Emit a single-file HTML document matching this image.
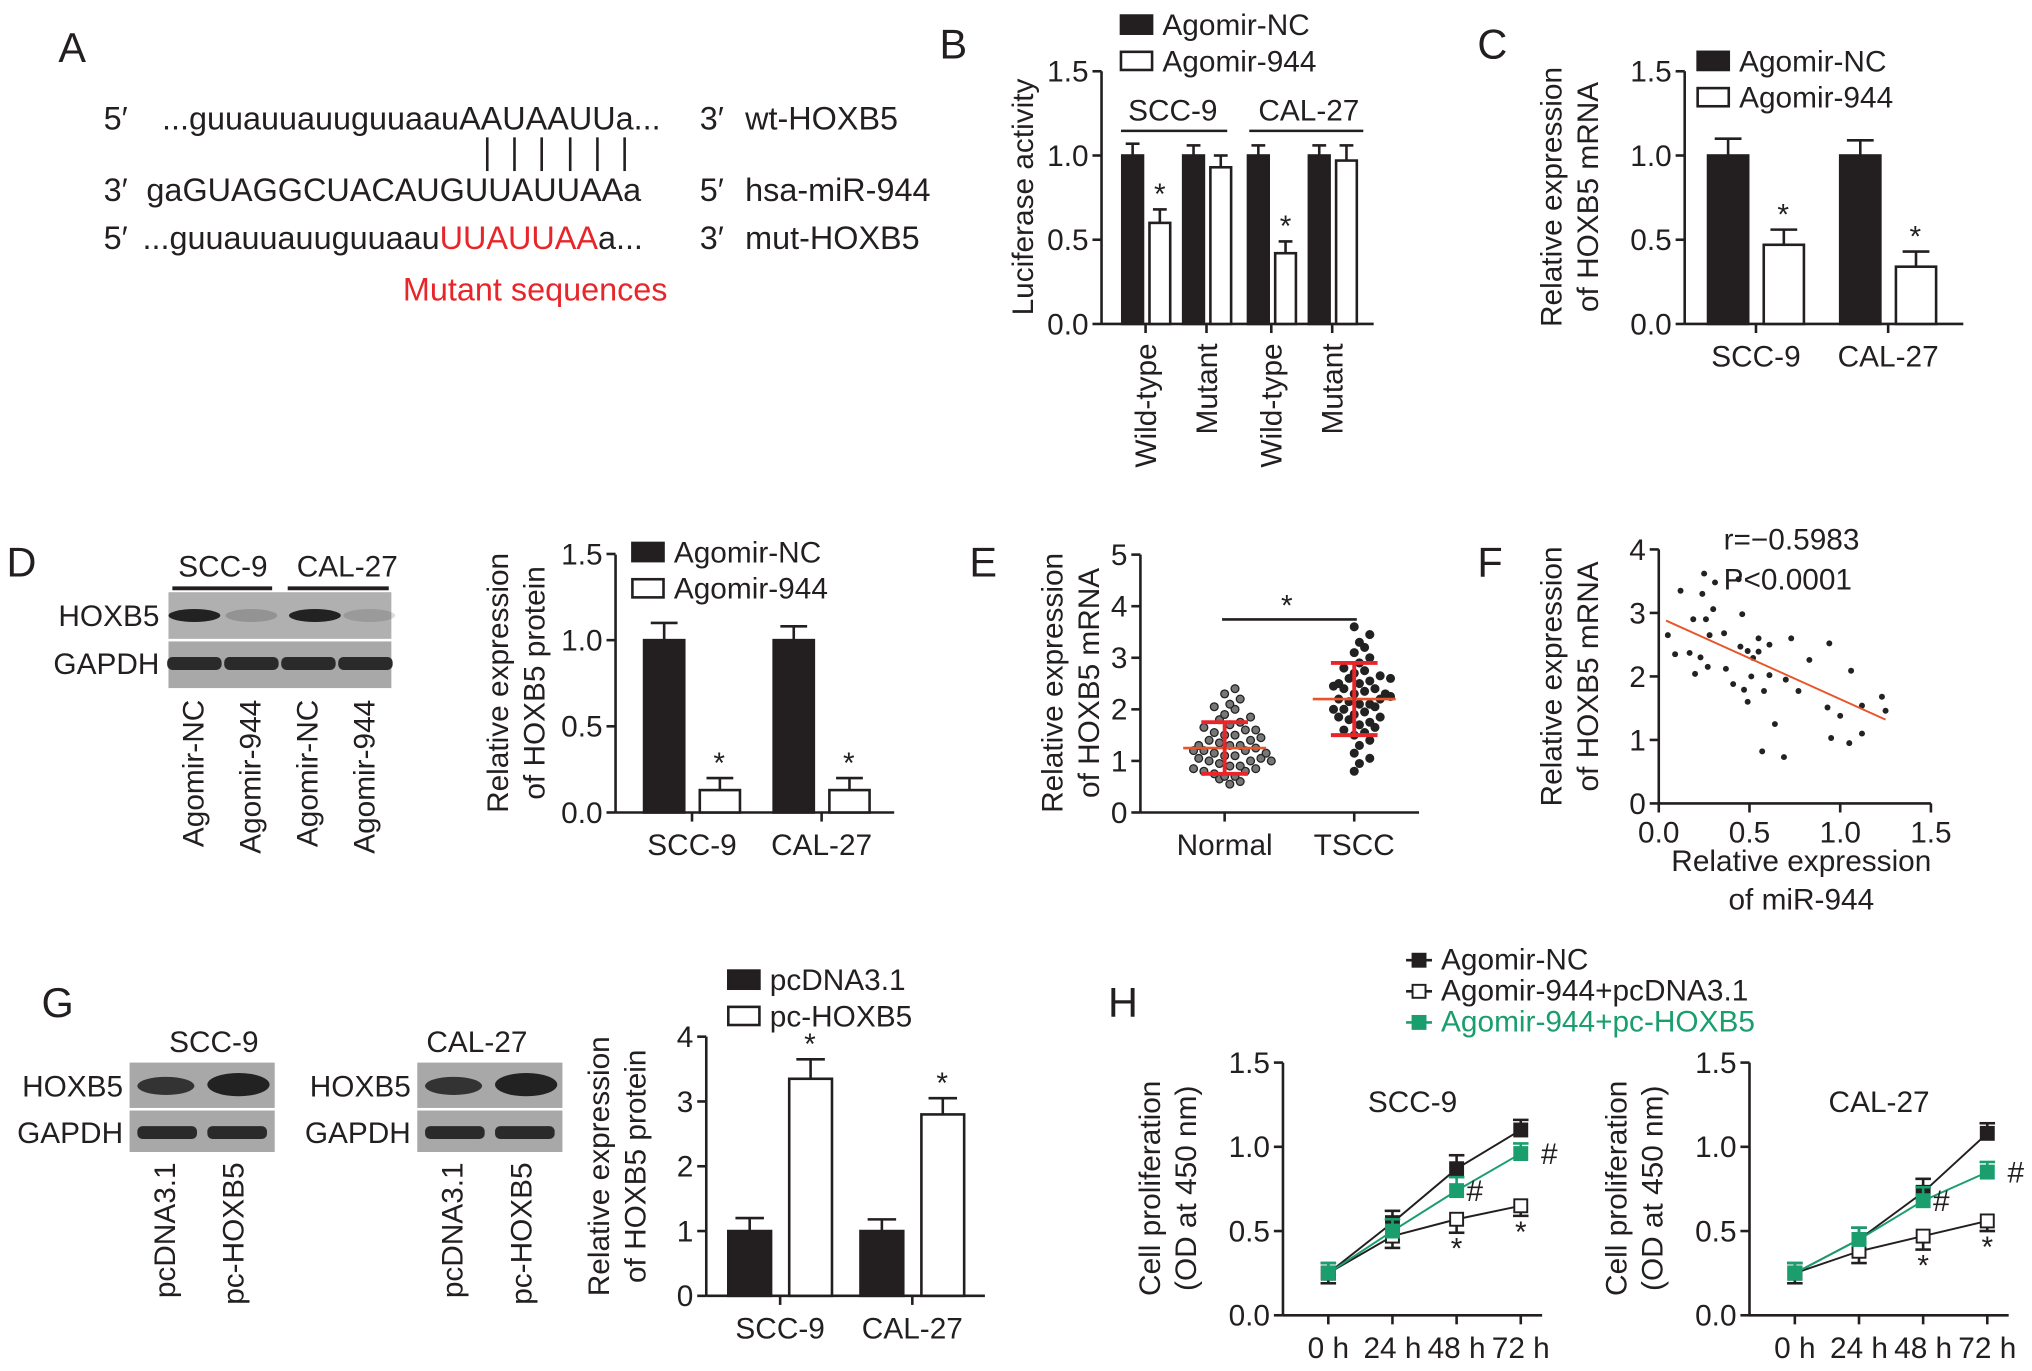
<!DOCTYPE html>
<html><head><meta charset="utf-8"><style>
html,body{margin:0;padding:0;background:#fff}
svg{display:block}
text{font-family:"Liberation Sans",sans-serif;fill:#231f20}
</style></head><body>
<svg id="fig" width="2032" height="1371" viewBox="0 0 1568 1058" preserveAspectRatio="none" xmlns="http://www.w3.org/2000/svg">
<g id="A" font-size="25">
<text x="45" y="48" font-size="32">A</text>
<text x="80" y="100">5′</text><text x="125" y="100">...guuauuauuguuaauAAUAAUUa...</text><text x="540" y="100">3′</text><text x="575" y="100">wt-HOXB5</text>
<text x="80" y="155">3′</text><text x="113" y="155">gaGUAGGCUACAUGUUAUUAAa</text><text x="540" y="155">5′</text><text x="575" y="155">hsa-miR-944</text>
<text x="80" y="192">5′</text><text x="110" y="192">...guuauuauuguuaau<tspan style="fill:#e8262a">UUAUUAA</tspan>a...</text><text x="540" y="192">3′</text><text x="575" y="192">mut-HOXB5</text>
<text x="413" y="232" text-anchor="middle" style="fill:#e8262a">Mutant sequences</text>
<g stroke="#231f20" stroke-width="2"><line x1="376" y1="106" x2="376" y2="132"/><line x1="397" y1="106" x2="397" y2="132"/><line x1="418" y1="106" x2="418" y2="132"/><line x1="440" y1="106" x2="440" y2="132"/><line x1="461" y1="106" x2="461" y2="132"/><line x1="482" y1="106" x2="482" y2="132"/></g>
</g>
<g id="dyn"></g>
</svg>
<script>
// ---------- data ----------
const bCats=["Wild-type","Mutant","Wild-type","Mutant"];
const bNC=[1.0,1.0,1.0,1.0];
const b944=[0.60,0.93,0.42,0.97];
const bErrNC=[0.07,0.06,0.06,0.06];
const bErr944=[0.08,0.07,0.07,0.09];
const cCats=["SCC-9","CAL-27"];
const cNC=[1.0,1.0];
const c944=[0.47,0.34];
const cErrNC=[0.1,0.09];const cErr944=[0.09,0.09];
const dNC=[1.0,1.0];const d944=[0.13,0.13];
const dErrNC=[0.1,0.08];const dErr944=[0.07,0.07];
const eNormal=[0.55,0.6,0.65,0.7,0.7,0.75,0.8,0.8,0.85,0.9,0.9,0.95,1.0,1.0,1.05,1.05,1.1,1.1,1.15,1.2,1.2,1.25,1.3,1.3,1.35,1.4,1.4,1.45,1.5,1.5,1.55,1.6,1.65,1.7,1.75,1.8,1.85,1.9,2.0,2.05,2.1,2.2,2.3,2.4,1.0,1.2,1.3,0.85,1.6,1.15];
const eTSCC=[0.8,0.95,1.05,1.15,1.3,1.4,1.5,1.55,1.6,1.7,1.75,1.8,1.85,1.9,1.95,2.0,2.05,2.1,2.1,2.15,2.2,2.2,2.25,2.3,2.35,2.4,2.4,2.45,2.5,2.55,2.6,2.65,2.7,2.75,2.8,2.9,3.0,3.1,3.2,3.3,3.45,3.6,2.0,2.3,1.65,2.5,1.85,2.6];
const eMean=[1.25,2.2];const eSD=[0.5,0.7];
const fX=[0.05,0.09,0.12,0.17,0.19,0.2,0.23,0.24,0.25,0.26,0.27,0.28,0.3,0.31,0.36,0.37,0.41,0.44,0.45,0.46,0.47,0.49,0.49,0.51,0.52,0.55,0.55,0.57,0.58,0.61,0.61,0.64,0.69,0.7,0.73,0.77,0.83,0.93,0.94,0.95,1.0,1.05,1.06,1.12,1.12,1.23,1.25];
const fY=[2.65,2.35,3.35,2.37,2.9,2.04,2.3,3.3,3.62,2.9,2.15,2.65,3.06,3.48,2.68,2.12,1.88,3.53,2.47,2.98,1.79,1.6,2.4,2.0,2.29,2.6,2.39,0.82,1.77,2.5,2.02,1.25,0.73,1.95,2.6,1.77,2.26,1.51,2.52,1.03,1.38,0.95,2.09,1.1,1.54,1.68,1.46];
const fFit=[[0.04,2.88],[1.25,1.32]];
const gPc=[1.0,1.0];const gHox=[3.35,2.8];
const gErrPc=[0.2,0.18];const gErrHox=[0.3,0.25];
const hTimes=["0 h","24 h","48 h","72 h"];
const hSccNC=[0.25,0.55,0.87,1.1];const hSccPc=[0.25,0.47,0.57,0.65];const hSccHox=[0.25,0.5,0.74,0.96];
const hCalNC=[0.25,0.45,0.73,1.08];const hCalPc=[0.25,0.38,0.47,0.56];const hCalHox=[0.25,0.45,0.68,0.85];
const hErr=[0.06,0.07,0.08,0.06];
// ---------- helpers ----------
const FS=23;
const NS="http://www.w3.org/2000/svg";const root=document.getElementById('dyn');
function el(t,a,p){const e=document.createElementNS(NS,t);for(const k in a)e.setAttribute(k,a[k]);(p||root).appendChild(e);return e;}
function txt(x,y,s,fs,anchor,p,rot,fill){const e=el('text',{x:x,y:y,'font-size':fs||FS,'text-anchor':anchor||'start'},p);if(rot)e.setAttribute('transform','rotate(-90 '+x+' '+y+')');if(fill)e.style.fill=fill;e.textContent=s;return e;}
function ln(x1,y1,x2,y2,p,w,c){return el('line',{x1:x1,y1:y1,x2:x2,y2:y2,stroke:c||'#231f20','stroke-width':w||2},p);}
function yAxis(x,y0,top,ticks,fn,p){ln(x,y0,x,top,p);ticks.forEach(t=>{const y=fn(t.v);ln(x-7,y,x,y,p);txt(x-10,y+8,t.s,FS,'end',p);});}
function errBar(cx,yTop,yErr,w,p,c){ln(cx,yTop,cx,yErr,p,2,c);ln(cx-w,yErr,cx+w,yErr,p,2,c);}
function bar(x,w,v,err,fn,black,p,name){const y0=fn(0),y=fn(v);errBar(x+w/2,y,fn(v+err),w/3,p);const r=el('rect',{x:x,y:y,width:w,height:y0-y,fill:black?'#231f20':'#fff',stroke:'#231f20','stroke-width':2},p);return r;}
function legend(x,y,labels,p){labels.forEach((l,i)=>{el('rect',{x:x,y:y+i*28-15,width:24,height:14,fill:i?'#fff':'#231f20',stroke:'#231f20','stroke-width':2},p);txt(x+32,y+i*28,l,FS,'start',p);});}
function g(name){const e=el('g',{});return e;}
const t15=[{v:0,s:'0.0'},{v:0.5,s:'0.5'},{v:1,s:'1.0'},{v:1.5,s:'1.5'}];
// ---------- B ----------
(function(){const p=g('panel-b-luciferase');const fy=v=>250-130*v;
txt(725,45,'B',32,'start',p);yAxis(850,250,55,t15,fy,p);ln(850,250,1060,250,p);
txt(797,152,'Luciferase activity',FS,'middle',p,true);
legend(865,27,['Agomir-NC','Agomir-944'],p);
bCats.forEach((c,i)=>{const x=866+i*47+(i>1?3:0);bar(x,16,bNC[i],bErrNC[i],fy,true,p,'bar-nc-'+i);bar(x+21,16,b944[i],bErr944[i],fy,false,p,'bar-944-'+i);
 ln(x+18,250,x+18,257,p);txt(x+26,265,c,FS,'end',p,true);
 if(i%2==0)txt(x+29,fy(b944[i]+bErr944[i])-4,'*',FS,'middle',p);});
txt(905,93,'SCC-9',FS,'middle',p);ln(865,101,947,101,p);txt(1010,93,'CAL-27',FS,'middle',p);ln(964,101,1052,101,p);})();
// ---------- C ----------
(function(){const p=g('panel-c-mrna');const fy=v=>250-130*v;
txt(1140,45,'C',32,'start',p);yAxis(1300,250,55,t15,fy,p);ln(1300,250,1515,250,p);
txt(1205,152,'Relative expression',FS,'middle',p,true);txt(1233,152,'of HOXB5 mRNA',FS,'middle',p,true);
legend(1310,55,['Agomir-NC','Agomir-944'],p);
cCats.forEach((c,i)=>{const x=1318+i*102;bar(x,31,cNC[i],cErrNC[i],fy,true,p,'bar-nc-'+c);bar(x+43,31,c944[i],cErr944[i],fy,false,p,'bar-944-'+c);
 txt(x+58,fy(c944[i]+cErr944[i])-4,'*',FS,'middle',p);ln(x+37,250,x+37,257,p);txt(x+37,283,c,FS,'middle',p);});})();
// ---------- D ----------
(function(){const p=g('panel-d-western');const fy=v=>627-133*v;
txt(5,445,'D',32,'start',p);
txt(172,445,'SCC-9',FS,'middle',p);ln(133,454,210,454,p,3);txt(268,445,'CAL-27',FS,'middle',p);ln(222,454,300,454,p,3);
el('rect',{x:130,y:457,width:172,height:36,fill:'#b0b0b0'},p);el('rect',{x:130,y:495,width:172,height:36,fill:'#a8a8a8'},p);
[[150,1],[194,0.2],[243,1],[285,0.15]].forEach(b=>el('ellipse',{cx:b[0],cy:475,rx:20,ry:5,fill:'#222','fill-opacity':b[1]},p));
[150,194,238,282].forEach(x=>el('rect',{x:x-21,y:507,width:42,height:10,rx:4,fill:'#2a2a2a'},p));
txt(123,483,'HOXB5',FS,'end',p);txt(123,520,'GAPDH',FS,'end',p);
['Agomir-NC','Agomir-944','Agomir-NC','Agomir-944'].forEach((s,i)=>txt(157+i*44,540,s,FS,'end',p,true));
yAxis(475,627,428,t15,fy,p);ln(475,627,690,627,p);
txt(392,527,'Relative expression',FS,'middle',p,true);txt(420,527,'of HOXB5 protein',FS,'middle',p,true);
legend(488,434,['Agomir-NC','Agomir-944'],p);
cCats.forEach((c,i)=>{const x=497+i*100;bar(x,31,dNC[i],dErrNC[i],fy,true,p,'bar-nc-'+c);bar(x+43,31,d944[i],dErr944[i],fy,false,p,'bar-944-'+c);
 txt(x+58,fy(d944[i]+dErr944[i])-4,'*',FS,'middle',p);ln(x+37,627,x+37,634,p);txt(x+37,660,c,FS,'middle',p);});})();
// ---------- E ----------
(function(){const p=g('panel-e-scatter');const fy=v=>627-39.8*v;
txt(748,445,'E',32,'start',p);yAxis(880,627,428,[0,1,2,3,4,5].map(v=>({v:v,s:''+v})),fy,p);ln(880,627,1095,627,p);
txt(820,527,'Relative expression',FS,'middle',p,true);txt(848,527,'of HOXB5 mRNA',FS,'middle',p,true);
const cx=[945,1045];[eNormal,eTSCC].forEach((arr,k)=>{const cnt={};arr.forEach(v=>{const key=Math.round(v*5);cnt[key]=(cnt[key]||0)+1;const n=cnt[key]-1;const off=(n%2?1:-1)*Math.ceil(n/2)*8+((key%2)*4);
 const c=el('circle',{cx:cx[k]+off,cy:fy(v),r:3,fill:k?'#222':'#777',stroke:'#222','stroke-width':1},p);});
 const m=eMean[k],s=eSD[k];ln(cx[k]-32,fy(m),cx[k]+32,fy(m),p,2,'#e8552b');ln(cx[k],fy(m-s),cx[k],fy(m+s),p,3,'#e8262a');
 ln(cx[k]-18,fy(m-s),cx[k]+18,fy(m-s),p,3,'#e8262a');ln(cx[k]-18,fy(m+s),cx[k]+18,fy(m+s),p,3,'#e8262a');
 ln(cx[k],627,cx[k],634,p);});
txt(945,660,'Normal',FS,'middle',p);txt(1045,660,'TSCC',FS,'middle',p);
ln(943,478,1047,478,p);txt(993,475,'*',FS,'middle',p);})();
// ---------- F ----------
(function(){const p=g('panel-f-correlation');const fx=v=>1280+140*v,fy=v=>620-49*v;
txt(1140,445,'F',32,'start',p);yAxis(1280,620,424,[0,1,2,3,4].map(v=>({v:v,s:''+v})),fy,p);
ln(1280,620,1490,620,p);[0,0.5,1,1.5].forEach(v=>{ln(fx(v),620,fx(v),627,p);txt(fx(v),650,v.toFixed(1),FS,'middle',p);});
txt(1205,522,'Relative expression',FS,'middle',p,true);txt(1233,522,'of HOXB5 mRNA',FS,'middle',p,true);
txt(1390,672,'Relative expression',FS,'middle',p);txt(1390,702,'of miR-944',FS,'middle',p);
fX.forEach((x,i)=>{const c=el('circle',{cx:fx(x),cy:fy(fY[i]),r:2.3,fill:'#222'},p);});
ln(fx(fFit[0][0]),fy(fFit[0][1]),fx(fFit[1][0]),fy(fFit[1][1]),p,1.5,'#e8552b');
txt(1330,424,'r=−0.5983',FS,'start',p);txt(1330,455,'P<0.0001',FS,'start',p);})();
// ---------- G ----------
(function(){const p=g('panel-g-overexpression');const fy=v=>1000-50*v;
txt(32,785,'G',32,'start',p);
[[100,'SCC-9',165],[222,'CAL-27',368]].forEach((b,k)=>{const x0=k?322:100;txt(b[2],812,b[1],FS,'middle',p);
 el('rect',{x:x0,y:820,width:112,height:35,fill:'#a8a8a8'},p);el('rect',{x:x0,y:857,width:112,height:32,fill:'#a8a8a8'},p);
 el('ellipse',{cx:x0+28,cy:838,rx:22,ry:7,fill:'#333'},p);el('ellipse',{cx:x0+84,cy:837,rx:24,ry:9,fill:'#222'},p);
 el('rect',{x:x0+6,y:869,width:46,height:10,rx:4,fill:'#2a2a2a'},p);el('rect',{x:x0+60,y:869,width:46,height:10,rx:4,fill:'#2a2a2a'},p);
 txt(x0-5,846,'HOXB5',FS,'end',p);txt(x0-5,882,'GAPDH',FS,'end',p);
 txt(x0+35,897,'pcDNA3.1',FS,'end',p,true);txt(x0+88,897,'pc-HOXB5',FS,'end',p,true);});
yAxis(545,1000,800,[0,1,2,3,4].map(v=>({v:v,s:''+v})),fy,p);ln(545,1000,760,1000,p);
txt(470,900,'Relative expression',FS,'middle',p,true);txt(498,900,'of HOXB5 protein',FS,'middle',p,true);
legend(562,764,['pcDNA3.1','pc-HOXB5'],p);
cCats.forEach((c,i)=>{const x=562+i*102;bar(x,33,gPc[i],gErrPc[i],fy,true,p,'bar-pcdna-'+c);bar(x+47,33,gHox[i],gErrHox[i],fy,false,p,'bar-hoxb5-'+c);
 txt(x+63,fy(gHox[i]+gErrHox[i])-4,'*',FS,'middle',p);ln(x+40,1000,x+40,1007,p);txt(x+40,1033,c,FS,'middle',p);});})();
// ---------- H ----------
(function(){const p=g('panel-h-proliferation');
txt(855,785,'H',32,'start',p);
const lg=[['Agomir-NC','#231f20','#231f20'],['Agomir-944+pcDNA3.1','#231f20','#fff'],['Agomir-944+pc-HOXB5','#1a9e6e','#1a9e6e']];
lg.forEach((l,i)=>{const y=748+i*24;ln(1085,y-7,1105,y-7,p,2,l[1]);el('rect',{x:1090,y:y-12,width:10,height:10,fill:l[2],stroke:l[1],'stroke-width':1.5},p);txt(1112,y,l[0],FS,'start',p,false,i==2?'#1a9e6e':null);});
const sets=[{x0:990,title:'SCC-9',s:[hSccNC,hSccPc,hSccHox]},{x0:1350,title:'CAL-27',s:[hCalNC,hCalPc,hCalHox]}];
sets.forEach((S,k)=>{const fy=v=>1015-130*v,fx=i=>S.x0+35+i*49.5;
 yAxis(S.x0,1015,820,t15,fy,p);ln(S.x0,1015,S.x0+200,1015,p);
 hTimes.forEach((t,i)=>{ln(fx(i),1015,fx(i),1022,p);txt(fx(i),1048,t,FS,'middle',p);});
 txt(S.x0+100,858,S.title,FS,'middle',p);
 txt(S.x0-95,917,'Cell proliferation',FS,'middle',p,true);txt(S.x0-67,917,'(OD at 450 nm)',FS,'middle',p,true);
 const cols=['#231f20','#231f20','#1a9e6e'],fills=['#231f20','#fff','#1a9e6e'];
 S.s.forEach((arr,j)=>{el('polyline',{points:arr.map((v,i)=>fx(i)+','+fy(v)).join(' '),fill:'none',stroke:j==2?'#1a9e6e':'#231f20','stroke-width':1.5},p);
  arr.forEach((v,i)=>{errBar(fx(i),fy(v),fy(v+hErr[i]*(j==1?-1:1)),6,p,cols[j]);
   const r=el('rect',{x:fx(i)-5,y:fy(v)-5,width:10,height:10,fill:fills[j],stroke:cols[j],'stroke-width':1.5},p);});});
 [2,3].forEach(i=>{txt(fx(i),fy(S.s[1][i]-hErr[i])+20,'*',FS,'middle',p);txt(fx(i)+(i==3?22:14),fy(S.s[2][i])+8,'#',FS,'middle',p);});});})();
</script>
</body></html>
